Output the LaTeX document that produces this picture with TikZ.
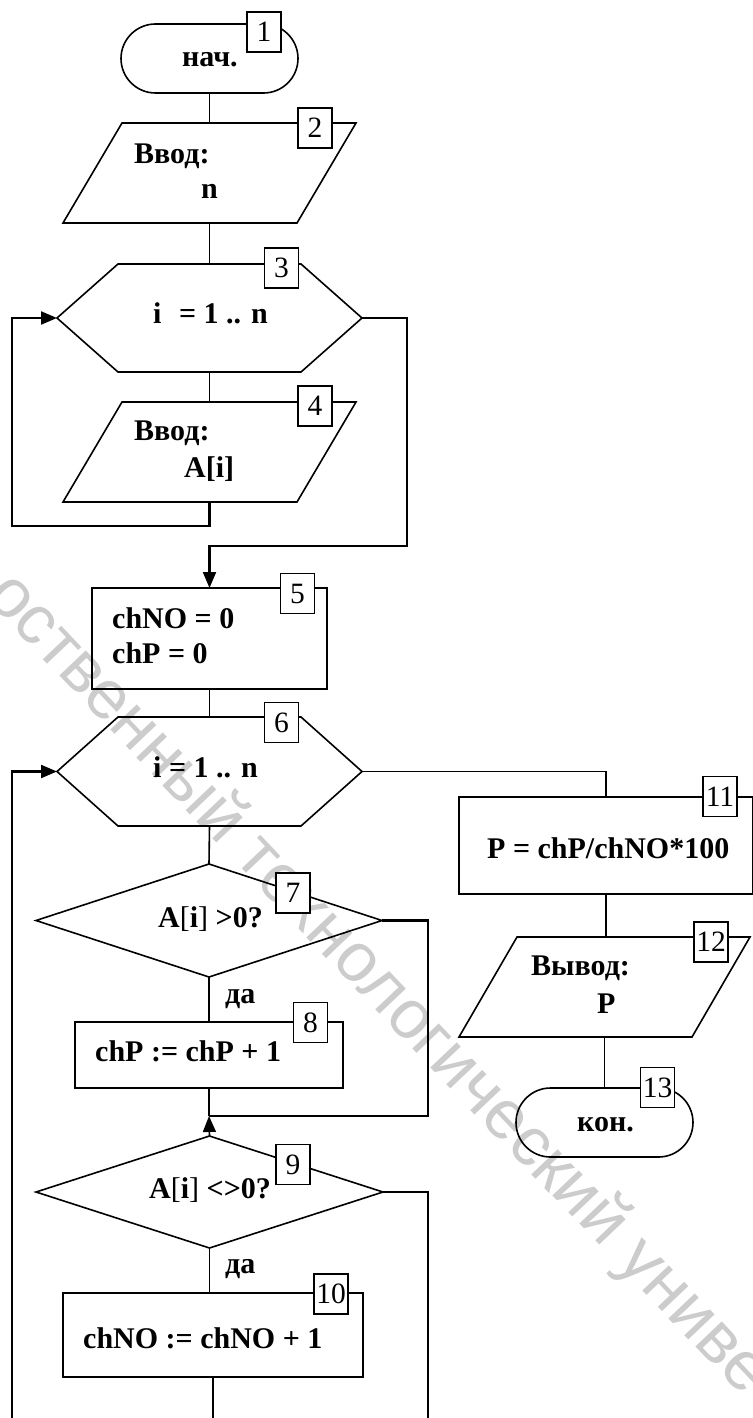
\documentclass[tikz,border=0pt]{standalone}
\usepackage{fontspec}
\setmainfont{Liberation Serif}
\newfontfamily\stampfont{Liberation Sans}
\usetikzlibrary{arrows.meta,calc}
\begin{document}
\begin{tikzpicture}[x=1pt,y=-1pt,
  frame/.style={draw=none, inner sep=0pt, outer sep=0pt},
  outline/.style={line width=1.6pt, line join=miter},
  flow/.style={line width=1.6pt},
  loopline/.style={line width=2.1pt},
  arr/.style={-{Triangle[length=16pt,width=13pt]}},
  txt/.style={inner sep=0pt, anchor=base west, font=\fontsize{30}{36}\selectfont\bfseries},
  num/.style={draw, fill=white, line width=1.6pt, minimum width=34pt, minimum height=40pt,
              inner sep=0pt, font=\fontsize{29.5}{30}\selectfont},
  wmtext/.style={inner sep=0pt, anchor=base west, text=black!20, rotate=-46.5,
                 font=\stampfont\fontsize{69}{72}\selectfont},
]
\useasboundingbox[fill=white] (0,0) rectangle (752,1418);

% ---------- background lettering ----------
\node[wmtext] (wm) at (-16,597) {оственный технологический униве};

% ---------- block frames (invisible nodes carrying the anchors) ----------
\node[frame, minimum width=177pt, minimum height=69pt]  (t1)  at (209.5,58.5)  {};
\node[frame, minimum width=293pt, minimum height=100pt] (p2)  at (209.5,173)   {};
\node[frame, minimum width=305pt, minimum height=108pt] (h3)  at (209.5,318)   {};
\node[frame, minimum width=293pt, minimum height=100pt] (p4)  at (209.5,452)   {};
\node[frame, minimum width=235pt, minimum height=101pt] (r5)  at (209.5,638.5) {};
\node[frame, minimum width=305pt, minimum height=109pt] (h6)  at (209.5,771.5) {};
\node[frame, minimum width=346pt, minimum height=113pt] (d7)  at (209,920.5)   {};
\node[frame, minimum width=268pt, minimum height=66pt]  (r8)  at (209,1055)    {};
\node[frame, minimum width=347pt, minimum height=112pt] (d9)  at (209.5,1192)  {};
\node[frame, minimum width=300pt, minimum height=84pt]  (r10) at (213,1335)    {};
\node[frame, minimum width=294pt, minimum height=97pt]  (r11) at (606,845.5)   {};
\node[frame, minimum width=291pt, minimum height=100pt] (p12) at (604.5,987)   {};
\node[frame, minimum width=177pt, minimum height=69pt]  (t13) at (604.5,1122.5){};

% ---------- outlines ----------
% terminals
\draw[outline, rounded corners=34.5pt] (t1.south west) rectangle (t1.north east);
\draw[outline, rounded corners=34.5pt] (t13.south west) rectangle (t13.north east);
% input / output parallelograms
\draw[outline] ($(p2.north west)+(59,0)$) -- (p2.north east) -- ($(p2.south east)-(59,0)$) -- (p2.south west) -- cycle;
\draw[outline] ($(p4.north west)+(59,0)$) -- (p4.north east) -- ($(p4.south east)-(59,0)$) -- (p4.south west) -- cycle;
\draw[outline] ($(p12.north west)+(58,0)$) -- (p12.north east) -- ($(p12.south east)-(58,0)$) -- (p12.south west) -- cycle;
% loop headers
\draw[outline] (h3.west) -- ($(h3.north west)+(61,0)$) -- ($(h3.north east)-(61,0)$) -- (h3.east)
               -- ($(h3.south east)-(61,0)$) -- ($(h3.south west)+(61,0)$) -- cycle;
\draw[outline] (h6.west) -- ($(h6.north west)+(61,0)$) -- ($(h6.north east)-(61,0)$) -- (h6.east)
               -- ($(h6.south east)-(61,0)$) -- ($(h6.south west)+(61,0)$) -- cycle;
% decisions
\draw[outline] (d7.north) -- (d7.east) -- (d7.south) -- (d7.west) -- cycle;
\draw[outline] (d9.north) -- (d9.east) -- (d9.south) -- (d9.west) -- cycle;
% processes
\draw[outline] (r5.south west) rectangle (r5.north east);
\draw[outline] (r8.south west) rectangle (r8.north east);
\draw[outline] (r10.south west) rectangle (r10.north east);
\draw[outline] (r11.south west) rectangle (r11.north east);

% ---------- junction and loose-end points ----------
\coordinate (l3)  at (12,526);
\coordinate (x3)  at (407,546);
\coordinate (j8)  at (209,1116);
\coordinate (x7)  at (428,1116);
\coordinate (x9)  at (428,1418);
\coordinate (b10) at (213,1418);
\coordinate (b6)  at (12,1418);

% ---------- connectors ----------
\draw[flow] (t1.south) -- (p2.north);
\draw[flow] (p2.south) -- (h3.north);
\draw[flow] (h3.south) -- (p4.north);
\draw[loopline, arr] (p4.south) |- (l3) |- (h3.west);
\draw[loopline, arr] (h3.east) -| (x3) -| (r5.north);
\draw[flow] (r5.south) -- (h6.north);
\draw[flow] (h6.south) -- (d7.north);
\draw[flow] (d7.south) -- (r8.north);
\draw[loopline] (d7.east) -| (x7) -- (j8);
\draw[flow] (r8.south) -- (j8);
\draw[flow, arr] (d9.north) -- (j8);
\draw[flow] (d9.south) -- (d9.south |- r10.north);
\draw[loopline] (d9.east) -| (x9);
\draw[loopline] (r10.south) -- (b10);
\draw[loopline, arr] (b6) |- (h6.west);
\draw[flow] (h6.east) -| (r11.north);
\draw[flow] (r11.south) -- (r11.south |- p12.north);
\draw[flow] (p12.south) -- (t13.north);

% ---------- texts ----------
\node[txt] (s1)  at (182,67)    {нач.};
\node[txt] (s2a) at (134,163)   {Ввод:};
\node[txt] (s2b) at (201,198)   {n};
\node[txt] (s3)  at (153,323)   {i\,\, = 1 .. n};
\node[txt] (s4a) at (134,440)   {Ввод:};
\node[txt] (s4b) at (184,477)   {A[i]};
\node[txt] (s5a) at (112,628)   {chNO = 0};
\node[txt] (s5b) at (112,663)   {chP = 0};
\node[txt] (s6)  at (153,777)   {i = 1 .. n};
\node[txt] (s7)  at (158,927)   {A{\mdseries[}i{\mdseries]} >0?};
\node[txt] (y7)  at (225,1003)  {да};
\node[txt] (s8)  at (95,1061)   {chP := chP + 1};
\node[txt] (s9)  at (149,1198)  {A{\mdseries[}i{\mdseries]} <>0?};
\node[txt] (y9)  at (225,1273)  {да};
\node[txt] (s10) at (83,1348)   {chNO := chNO + 1};
\node[txt] (s11) at (487,858)   {P = chP/chNO*100};
\node[txt] (s12a) at (531,975)  {Вывод:};
\node[txt] (s12b) at (597,1013) {P};
\node[txt] (s13) at (577,1131)  {кон.};

% ---------- block numbers ----------
\node[num] (n1)  at (264,32)      {1};
\node[num] (n2)  at (315,128)     {2};
\node[num] (n3)  at (281.5,268)   {3};
\node[num] (n4)  at (315,406)     {4};
\node[num] (n5)  at (297.5,593.5) {5};
\node[num] (n6)  at (281.5,722.5) {6};
\node[num] (n7)  at (293,893)     {7};
\node[num] (n8)  at (310.5,1022.5){8};
\node[num] (n9)  at (293,1164.5)  {9};
\node[num] (n10) at (331,1294)    {10};
\node[num] (n11) at (720,796.5)   {11};
\node[num] (n12) at (711,942)     {12};
\node[num] (n13) at (657.5,1087.5){13};
\end{tikzpicture}
\end{document}
